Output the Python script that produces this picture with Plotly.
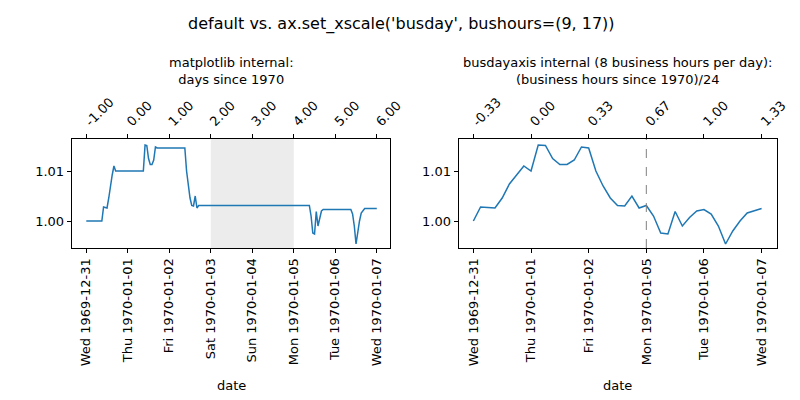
import plotly.graph_objects as go
from datetime import datetime

# Data: values at business hours 9:00..17:00 for each business day
bus_days = ["1969-12-31", "1970-01-01", "1970-01-02", "1970-01-05", "1970-01-06"]
bus_day_index = [-1, 0, 1, 2, 3]           # business-day count since 1970
hours = [9, 10, 11, 12, 13, 14, 15, 16, 17]
values = [
    [1.000, 1.0028, 1.0027, 1.0026, 1.0046, 1.0074, 1.0092, 1.0110, 1.0100],
    [1.0100, 1.0152, 1.0151, 1.0125, 1.0113, 1.0113, 1.0122, 1.0148, 1.0146],
    [1.0146, 1.0100, 1.0070, 1.0046, 1.0031, 1.0030, 1.0050, 1.0026, 1.0031],
    [1.0031, 1.0010, 0.9976, 0.9974, 1.0019, 0.9990, 1.0007, 1.0020, 1.0023],
    [1.0023, 1.0014, 0.9990, 0.9954, 0.9980, 1.0000, 1.0016, 1.0021, 1.0025],
]
start_time, start_value = "1969-12-31 00:00", 1.000
end_time, end_value = "1970-01-07 00:00", 1.0025

bottom_left_ticks = [-1, 0, 1, 2, 3, 4, 5, 6]
bottom_left_labels = ["Wed 1969-12-31", "Thu 1970-01-01", "Fri 1970-01-02", "Sat 1970-01-03",
                      "Sun 1970-01-04", "Mon 1970-01-05", "Tue 1970-01-06", "Wed 1970-01-07"]
top_left_labels = ["-1.00", "0.00", "1.00", "2.00", "3.00", "4.00", "5.00", "6.00"]
bottom_right_ticks = [-1/3, 0, 1/3, 2/3, 1, 4/3]
bottom_right_labels = ["Wed 1969-12-31", "Thu 1970-01-01", "Fri 1970-01-02",
                       "Mon 1970-01-05", "Tue 1970-01-06", "Wed 1970-01-07"]
top_right_labels = ["-0.33", "0.00", "0.33", "0.67", "1.00", "1.33"]

epoch = datetime(1970, 1, 1)
def days_since(s):
    return (datetime.fromisoformat(s) - epoch).total_seconds() / 86400

xl, xr, yv = [days_since(start_time)], [-1/3], [start_value]
for d, bi, vals in zip(bus_days, bus_day_index, values):
    for h, v in zip(hours, vals):
        xl.append(days_since(f"{d} {h:02d}:00"))
        xr.append((bi * 8 + (h - 9)) / 24)
        yv.append(v)
xl.append(days_since(end_time)); xr.append(4/3); yv.append(end_value)

blue = "#1f77b4"
F = dict(family="DejaVu Sans", size=13, color="black")
fig = go.Figure()
fig.add_trace(go.Scatter(x=xl, y=yv, mode="lines", line=dict(color=blue, width=1.5),
                         xaxis="x", yaxis="y", showlegend=False))
fig.add_trace(go.Scatter(x=xr, y=yv, mode="lines", line=dict(color=blue, width=1.5),
                         xaxis="x2", yaxis="y2", showlegend=False))
# invisible traces so the overlaying top/right axes get drawn
fig.add_trace(go.Scatter(x=xl, y=yv, mode="lines", line=dict(width=0), opacity=0,
                         xaxis="x3", yaxis="y3", showlegend=False, hoverinfo="skip"))
fig.add_trace(go.Scatter(x=xr, y=yv, mode="lines", line=dict(width=0), opacity=0,
                         xaxis="x4", yaxis="y4", showlegend=False, hoverinfo="skip"))

yr = [0.9946, 1.0164]
ydom = [0.4, 0.6725]
ax_common = dict(showgrid=False, zeroline=False, showline=True, linecolor="black",
                 ticks="outside", ticklen=4, tickcolor="black", tickfont=F, mirror=False)
xlr = [-1.35, 6.33]
xrr = [-0.419, 1.424]
yright = dict(range=yr, side="right", showticklabels=False, ticks="", domain=ydom,
              showline=True, linecolor="black", showgrid=False, zeroline=False)
fig.update_layout(
    width=800, height=400, margin=dict(l=0, r=0, t=0, b=0),
    paper_bgcolor="white", plot_bgcolor="white", font=F,
    xaxis=dict(domain=[0.081, 0.486], range=xlr, tickvals=bottom_left_ticks,
               ticktext=bottom_left_labels, tickangle=-90, anchor="y", **ax_common),
    xaxis3=dict(domain=[0.081, 0.486], range=xlr, tickvals=bottom_left_ticks, ticktext=top_left_labels,
                tickangle=-45, overlaying="x", side="top", anchor="y3", **ax_common),
    yaxis=dict(domain=ydom, range=yr, tickvals=[1.00, 1.01], ticktext=["1.00", "1.01"],
               anchor="x", **ax_common),
    yaxis3=dict(overlaying="y", anchor="x3", **yright),
    xaxis2=dict(domain=[0.5725, 0.9775], range=xrr, tickvals=bottom_right_ticks,
                ticktext=bottom_right_labels, tickangle=-90, anchor="y2", **ax_common),
    xaxis4=dict(domain=[0.5725, 0.9775], range=xrr, tickvals=bottom_right_ticks, ticktext=top_right_labels,
                tickangle=-45, overlaying="x2", side="top", anchor="y4", **ax_common),
    yaxis2=dict(domain=ydom, range=yr, tickvals=[1.00, 1.01], ticktext=["1.00", "1.01"],
                anchor="x2", **ax_common),
    yaxis4=dict(overlaying="y2", anchor="x4", **yright),
    shapes=[
        dict(type="rect", xref="x", yref="paper", x0=2, x1=4, y0=ydom[0], y1=ydom[1],
             fillcolor="rgba(128,128,128,0.15)", line=dict(width=0), layer="below"),
        dict(type="line", xref="x2", yref="paper", x0=2/3, x1=2/3, y0=ydom[0], y1=ydom[1],
             line=dict(color="gray", width=1, dash="dash")),
    ],
    annotations=[
        dict(text="default vs. ax.set_xscale('busday', bushours=(9, 17))", x=0.5, y=1-16/400,
             xanchor="center", yanchor="middle",
             xref="paper", yref="paper", showarrow=False, font=dict(family="DejaVu Sans", size=16)),
        dict(text="matplotlib internal:<br>days since 1970", x=(0.081+0.486)/2, y=1-63/400,
             xanchor="center", yanchor="middle",
             xref="paper", yref="paper", showarrow=False, font=F),
        dict(text="busdayaxis internal (8 business hours per day):<br>(business hours since 1970)/24",
             x=(0.5725+0.9775)/2, y=1-63/400, xanchor="center", yanchor="middle",
             xref="paper", yref="paper", showarrow=False, font=F),
        dict(text="date", x=(0.081+0.486)/2, y=1-377/400, xanchor="center", yanchor="middle",
             xref="paper", yref="paper", showarrow=False, font=F),
        dict(text="date", x=(0.5725+0.9775)/2, y=1-377/400, xanchor="center", yanchor="middle",
             xref="paper", yref="paper", showarrow=False, font=F),
    ],
)
fig.write_html("out.html")
